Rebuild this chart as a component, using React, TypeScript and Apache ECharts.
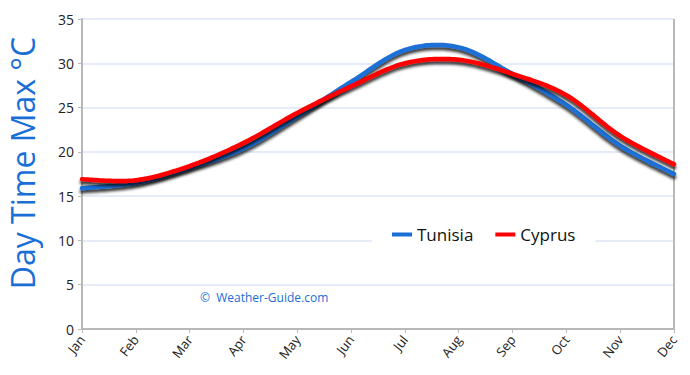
import React, { useEffect, useRef } from "react";
import * as echarts from "echarts";

const months = ["Jan", "Feb", "Mar", "Apr", "May", "Jun", "Jul", "Aug", "Sep", "Oct", "Nov", "Dec"];
const tunisia = [15.9, 16.5, 18.2, 20.4, 24.0, 27.9, 31.5, 31.8, 28.8, 25.3, 20.7, 17.5];
const cyprus = [16.9, 16.8, 18.4, 21.0, 24.4, 27.4, 30.0, 30.4, 28.8, 26.4, 21.8, 18.6];
const yTitle = "Day Time Max °C";
const watermark = "©  Weather-Guide.com";

function splineSeries(name: string, values: number[], color: string) {
  return {
    type: "custom",
    name,
    data: values.map((v, i) => [i, v]),
    encode: { x: 0, y: 1 },
    itemStyle: { color },
    z: 3,
    renderItem: (params: any, api: any) => {
      if (params.dataIndex !== 0) return null;
      const pts = values.map((v, i) => api.coord([i, v]));
      const out: number[][] = [];
      const n = pts.length;
      for (let i = 0; i < n - 1; i++) {
        const p0 = pts[Math.max(0, i - 1)];
        const p1 = pts[i];
        const p2 = pts[i + 1];
        const p3 = pts[Math.min(n - 1, i + 2)];
        const c1 = [p1[0] + (p2[0] - p0[0]) / 6, p1[1] + (p2[1] - p0[1]) / 6];
        const c2 = [p2[0] - (p3[0] - p1[0]) / 6, p2[1] - (p3[1] - p1[1]) / 6];
        const steps = 24;
        for (let s = i === 0 ? 0 : 1; s <= steps; s++) {
          const t = s / steps;
          const u = 1 - t;
          const x = u * u * u * p1[0] + 3 * u * u * t * c1[0] + 3 * u * t * t * c2[0] + t * t * t * p2[0];
          const y = u * u * u * p1[1] + 3 * u * u * t * c1[1] + 3 * u * t * t * c2[1] + t * t * t * p2[1];
          out.push([x, y]);
        }
      }
      return {
        type: "polyline",
        shape: { points: out },
        style: {
          stroke: color,
          fill: null,
          lineWidth: 4.5,
          lineJoin: "round",
          lineCap: "round",
          shadowColor: "rgba(0,0,0,0.8)",
          shadowBlur: 3,
          shadowOffsetY: 3,
        },
      };
    },
  };
}

export default function App() {
  const ref = useRef<HTMLDivElement>(null);
  useEffect(() => {
    const chart = echarts.init(ref.current!, null, { renderer: "svg" });
    chart.setOption({
      animation: false,
      backgroundColor: "#fff",
      grid: { left: 82, right: 16, top: 19, bottom: 46 },
      legend: {
        data: ["Tunisia", "Cyprus"],
        left: 372,
        top: 222,
        backgroundColor: "#fff",
        padding: [4, 20, 4, 20],
        itemGap: 22,
        itemWidth: 20,
        itemHeight: 4,
        icon: "rect",
        textStyle: { fontSize: 17, color: "#111", fontFamily: "Open Sans" },
      },
      xAxis: {
        type: "category",
        data: months,
        boundaryGap: false,
        axisLine: { lineStyle: { color: "#b8b8b8", width: 2 } },
        axisTick: { show: true, alignWithLabel: true, length: 4, lineStyle: { color: "#b8b8b8" } },
        axisLabel: { rotate: 52, fontSize: 13, color: "#222", fontFamily: "Open Sans", margin: 8 },
        splitLine: { show: false },
      },
      yAxis: {
        type: "value",
        min: 0,
        max: 35,
        interval: 5,
        axisLine: { show: true, lineStyle: { color: "#b8b8b8", width: 2 } },
        axisTick: { show: true, length: 4, lineStyle: { color: "#b8b8b8" } },
        axisLabel: { fontSize: 14, color: "#222", fontFamily: "Open Sans", margin: 8 },
        splitLine: { lineStyle: { color: "#dde6f4", width: 1.5 } },
      },
      graphic: [
        {
          type: "line",
          shape: { x1: 674, y1: 19, x2: 674, y2: 329 },
          style: { stroke: "#b8b8b8", lineWidth: 2 },
          z: 1,
        },
        {
          type: "text",
          x: 22,
          y: 163,
          rotation: Math.PI / 2,
          style: {
            text: yTitle,
            fontSize: 32,
            fill: "#1a6fd6",
            fontFamily: "Open Sans",
            align: "center",
            verticalAlign: "middle",
          },
        },
        {
          type: "text",
          left: 200,
          top: 291,
          style: { text: watermark, fontSize: 12, fill: "#1a6fd6", fontFamily: "Open Sans" },
        },
      ],
      series: [splineSeries("Tunisia", tunisia, "#1a6fd6"), splineSeries("Cyprus", cyprus, "#ff0000")],
    });
    return () => chart.dispose();
  }, []);
  return <div ref={ref} style={{ width: 690, height: 375, position: "absolute", left: 0, top: 0 }} />;
}
